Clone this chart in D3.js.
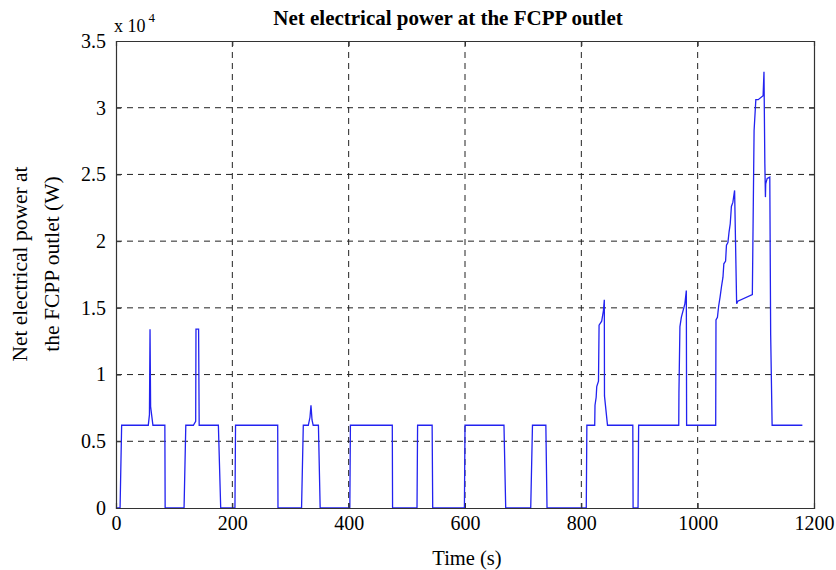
<!DOCTYPE html>
<html><head><meta charset="utf-8">
<script src="https://cdn.jsdelivr.net/npm/d3@7"></script>
<style>body{margin:0;background:#fff}svg{display:block}text{font-family:"Liberation Serif","Times New Roman",serif;fill:#000}</style>
</head><body><svg id="c" width="836" height="570"></svg>
<script>
const xTicks=[0,200,400,600,800,1000,1200];
const yTicks=[0,5000,10000,15000,20000,25000,30000,35000];
const yTickLabels=["0","0.5","1","1.5","2","2.5","3","3.5"];
const times=[0,7,9.7,55.5,57.5,58.5,59.5,63.5,84,84.5,117,120,133,137,137.5,142,143,176,180,204.5,205.5,278,278.5,319,322,330.6,333.5,335.2,337,339,348,351,402,403,475,475.5,517.5,518.5,543.5,544.5,599,600,667,670,713,716,739,741,808.5,809.5,823,823.5,825.5,826.5,829.5,830.5,835,838,839.5,839.8,845,888.5,889,897.5,898.5,967.5,967.8,969.5,972,978,980.5,981,1031,1031.5,1034,1036,1038.5,1041,1043.5,1045,1048,1049.5,1052,1054,1056,1058,1060.5,1063.5,1067,1069,1094,1097,1100,1104,1112.5,1114,1115.5,1116.5,1117,1119.5,1124,1125.5,1128,1180];
const power=[0,0,6200,6200,7000,13400,7600,6200,6200,0,0,6200,6200,6500,13400,13400,6200,6200,0,0,6200,6200,0,0,6200,6200,6800,7700,6600,6200,6200,0,0,6200,6200,0,0,6200,6200,0,0,6200,6200,0,0,6200,6200,0,0,6200,6200,7700,8300,9100,9500,13700,14000,14800,15600,8400,6200,6200,0,0,6200,6200,8600,13600,14300,15300,16300,6200,6200,14100,14300,15100,15800,16600,17300,18300,18500,19700,19900,20700,21300,22600,22900,23800,15300,15500,16000,28300,30600,30600,30900,32700,25800,23300,24300,24700,24800,13000,6200,6200];
const data=times.map((t,i)=>[t,power[i]]);

const svg=d3.select("#c");
const L=116,R=814,T=41,B=508;
const x=d3.scaleLinear().domain([0,1200]).range([L,R]);
const y=d3.scaleLinear().domain([0,35000]).range([B,T]);

// grid
const g=svg.append("g");
g.selectAll("line.gx").data(xTicks.slice(1,-1)).join("line")
 .attr("x1",d=>x(d)).attr("x2",d=>x(d)).attr("y1",T).attr("y2",B)
 .attr("stroke","#222").attr("stroke-width",1).attr("stroke-dasharray","6,5");
g.selectAll("line.gy").data(yTicks.slice(1,-1)).join("line")
 .attr("y1",d=>y(d)).attr("y2",d=>y(d)).attr("x1",L).attr("x2",R)
 .attr("stroke","#222").attr("stroke-width",1).attr("stroke-dasharray","6,5");

// line
svg.append("path").datum(data)
 .attr("d",d3.line().x(d=>x(d[0])).y(d=>y(d[1])))
 .attr("fill","none").attr("stroke","#2222f0").attr("stroke-width",1.3);

// axes
svg.append("g").attr("transform",`translate(0,${B})`)
 .call(d3.axisBottom(x).tickValues(xTicks).tickSize(-5).tickPadding(8).tickFormat(d3.format("d")));
svg.append("g").attr("transform",`translate(0,${T})`)
 .call(d3.axisTop(x).tickValues(xTicks).tickSize(-5).tickFormat(""));
svg.append("g").attr("transform",`translate(${L},0)`)
 .call(d3.axisLeft(y).tickValues(yTicks).tickSize(-5).tickPadding(10).tickFormat((d,i)=>yTickLabels[i]));
svg.append("g").attr("transform",`translate(${R},0)`)
 .call(d3.axisRight(y).tickValues(yTicks).tickSize(-5).tickFormat(""));
svg.selectAll(".domain").attr("stroke","#333").attr("stroke-width",1.2);
svg.selectAll(".tick line").attr("stroke","#333");
svg.selectAll(".tick text").attr("font-family","Liberation Serif").attr("font-size",20).attr("fill","#000");

// texts
svg.append("text").attr("x",448).attr("y",25).attr("text-anchor","middle")
 .attr("font-size",21).attr("font-weight","bold").text("Net electrical power at the FCPP outlet");
const ex=svg.append("text").attr("x",114).attr("y",32).attr("font-size",18);
ex.append("tspan").text("x 10");
ex.append("tspan").attr("dy",-10).attr("dx",3).attr("font-size",13).text("4");
svg.append("text").attr("x",467).attr("y",565).attr("text-anchor","middle").attr("font-size",20.5).text("Time (s)");
const yl=svg.append("text").attr("transform","translate(0,264) rotate(-90)").attr("text-anchor","middle").attr("font-size",21.5);
yl.append("tspan").attr("x",0).attr("y",27).text("Net electrical power at");
yl.append("tspan").attr("x",0).attr("y",59).text("the FCPP outlet (W)");
</script></body></html>
